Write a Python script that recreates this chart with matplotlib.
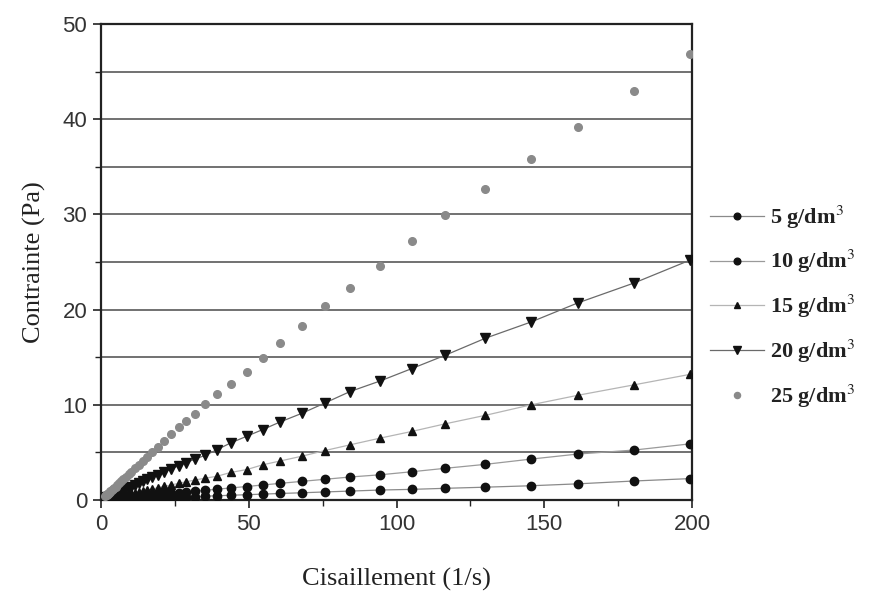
#!/usr/bin/env python3
# -*- coding: utf-8 -*-

import matplotlib
matplotlib.use('Agg')
import matplotlib.pyplot as plt
from matplotlib.ticker import MultipleLocator

# shear rate steps (1/s), shared by every concentration
shear = [1.5, 1.7, 1.9, 2.1, 2.3, 2.6, 2.9, 3.2, 3.6, 4.0, 4.4, 4.9, 5.5, 6.1,
         6.8, 7.5, 8.4, 9.3, 10.3, 11.5, 12.7, 14.1, 15.7, 17.4, 19.3, 21.4,
         23.8, 26.4, 28.8, 31.8, 35.3, 39.3, 43.9, 49.3, 54.7, 60.6, 67.9,
         75.8, 84.3, 94.4, 105.1, 116.4, 130.1, 145.5, 161.3, 180.4, 199.3]

# shear stress (Pa) for each concentration
stress_5 = [0.02, 0.02, 0.02, 0.02, 0.03, 0.03, 0.03, 0.04, 0.04, 0.05, 0.05,
            0.06, 0.06, 0.07, 0.08, 0.09, 0.10, 0.11, 0.12, 0.13, 0.15, 0.16,
            0.18, 0.20, 0.22, 0.25, 0.27, 0.30, 0.33, 0.36, 0.40, 0.45, 0.50,
            0.56, 0.62, 0.69, 0.76, 0.85, 0.94, 1.05, 1.12, 1.23, 1.35, 1.50,
            1.70, 2.00, 2.25]
stress_10 = [0.04, 0.05, 0.06, 0.06, 0.07, 0.08, 0.08, 0.09, 0.10, 0.12, 0.13,
             0.14, 0.16, 0.18, 0.20, 0.22, 0.24, 0.27, 0.30, 0.33, 0.37, 0.41,
             0.46, 0.50, 0.56, 0.62, 0.69, 0.77, 0.84, 0.92, 1.02, 1.14, 1.27,
             1.42, 1.58, 1.75, 1.96, 2.18, 2.42, 2.65, 2.97, 3.33, 3.75, 4.30,
             4.83, 5.25, 5.90]
stress_15 = [0.10, 0.11, 0.13, 0.14, 0.15, 0.17, 0.19, 0.21, 0.24, 0.27, 0.29,
             0.33, 0.37, 0.41, 0.45, 0.50, 0.56, 0.62, 0.69, 0.77, 0.85, 0.94,
             1.05, 1.16, 1.29, 1.43, 1.59, 1.76, 1.92, 2.10, 2.30, 2.50, 2.90,
             3.20, 3.70, 4.10, 4.60, 5.20, 5.80, 6.50, 7.20, 8.00, 8.90, 10.0,
             11.0, 12.1, 13.2]
stress_20 = [0.21, 0.23, 0.26, 0.29, 0.32, 0.36, 0.40, 0.44, 0.50, 0.55, 0.61,
             0.68, 0.76, 0.84, 0.94, 1.04, 1.16, 1.28, 1.42, 1.59, 1.75, 1.95,
             2.17, 2.40, 2.66, 2.95, 3.28, 3.62, 3.93, 4.30, 4.70, 5.30, 6.00,
             6.70, 7.40, 8.20, 9.10, 10.2, 11.4, 12.5, 13.8, 15.2, 17.0, 18.7,
             20.7, 22.8, 25.2]
stress_25 = [0.44, 0.49, 0.55, 0.61, 0.67, 0.75, 0.84, 0.93, 1.04, 1.16, 1.28,
             1.42, 1.60, 1.77, 1.97, 2.18, 2.44, 2.70, 2.99, 3.34, 3.68, 4.09,
             4.55, 5.05, 5.60, 6.21, 6.90, 7.63, 8.30, 9.00, 10.1, 11.1, 12.2,
             13.5, 14.9, 16.5, 18.3, 20.4, 22.3, 24.6, 27.2, 29.9, 32.7, 35.8,
             39.2, 43.0, 46.9]

labels = ['5 g/dm$^3$', '10 g/dm$^3$', '15 g/dm$^3$', '20 g/dm$^3$',
          '25 g/dm$^3$']

plt.rcParams['mathtext.fontset'] = 'stix'

SERIF = 'Liberation Serif'
SANS = 'Liberation Sans'

fig = plt.figure(figsize=(8.74, 6.01), dpi=100)
ax = fig.add_axes([0.1156, 0.168, 0.6762, 0.792])

# horizontal grid every 5 Pa
for level in range(5, 50, 5):
    ax.axhline(level, color='#4a4a4a', lw=1.1, zorder=1)

styles = [
    dict(marker='o', ms=6.0, color='#111111', line='#8a8a8a'),
    dict(marker='o', ms=6.0, color='#111111', line='#9a9a9a'),
    dict(marker='^', ms=6.0, color='#111111', line='#b5b5b5'),
    dict(marker='v', ms=7.0, color='#111111', line='#6a6a6a'),
    dict(marker='o', ms=5.5, color='#8a8a8a', line=None),
]
series = [stress_5, stress_10, stress_15, stress_20, stress_25]

for values, label, st in zip(series, labels, styles):
    if st['line'] is not None:
        ax.plot(shear, values, color=st['line'], lw=0.9, zorder=2)
        ls = '-'
    else:
        ls = 'none'
    ax.plot(shear, values, ls='none', marker=st['marker'], ms=st['ms'],
            mfc=st['color'], mec=st['color'], zorder=3)
    # proxy handle for the legend
    ax.plot([], [], ls=ls, color=st['line'] or st['color'], lw=0.9,
            marker=st['marker'], ms=st['ms'] * 0.8, mfc=st['color'],
            mec=st['color'], label=label)

ax.set_xlim(0, 200)
ax.set_ylim(0, 50)

ax.xaxis.set_major_locator(MultipleLocator(50))
ax.xaxis.set_minor_locator(MultipleLocator(25))
ax.yaxis.set_major_locator(MultipleLocator(10))
ax.yaxis.set_minor_locator(MultipleLocator(5))

ax.tick_params(axis='both', which='major', direction='out', length=6,
               width=1.2, color='#222222', labelsize=16,
               labelcolor='#333333', pad=4)
ax.tick_params(axis='both', which='minor', direction='out', length=4,
               width=1.0, color='#222222')
for lab in ax.get_xticklabels() + ax.get_yticklabels():
    lab.set_family(SANS)

for spine in ax.spines.values():
    spine.set_color('#222222')
    spine.set_linewidth(1.6)

ax.set_xlabel('Cisaillement (1/s)', family=SERIF, fontsize=19,
              color='#222222', labelpad=24)
ax.set_ylabel('Contrainte (Pa)', family=SERIF, fontsize=19,
              color='#222222', labelpad=12)

leg = fig.legend(loc='upper left', bbox_to_anchor=(0.79, 0.695),
                 frameon=False, handlelength=2.4, handletextpad=0.3,
                 labelspacing=0.8,
                 prop={'family': SERIF, 'size': 16, 'weight': 'bold'})
for txt in leg.get_texts():
    txt.set_color('#222222')

fig.savefig('out.png', dpi=100, facecolor='white')
plt.close(fig)
